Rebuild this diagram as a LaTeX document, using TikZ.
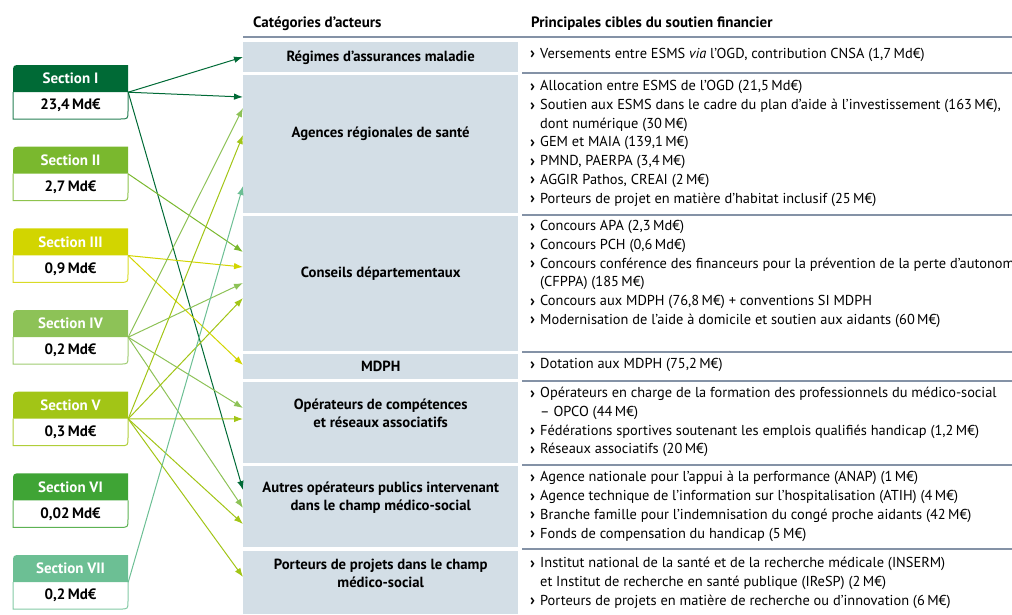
\documentclass[tikz,border=0pt]{standalone}
\usepackage{fontspec}
\setmainfont{PT Sans}
\usetikzlibrary{arrows.meta, positioning, calc}

\definecolor{sec1}{HTML}{006A36}
\definecolor{sec2}{HTML}{7AB82E}
\definecolor{sec3}{HTML}{D2D500}
\definecolor{sec4}{HTML}{8DC257}
\definecolor{sec5}{HTML}{A2C516}
\definecolor{sec6}{HTML}{3FA435}
\definecolor{sec7}{HTML}{6CBF94}
\definecolor{catfill}{HTML}{D3DEE6}
\definecolor{rulecol}{HTML}{8492A6}

\newcommand\bul{\strut\makebox[10pt][l]{\raisebox{-0.5pt}{\fontsize{16}{16}\selectfont\bfseries ›}}}
\newcommand\ind{\strut\hspace*{10pt}}

\begin{document}
\begin{tikzpicture}[
    x=1pt, y=-1pt,
    >={Latex[length=9pt, width=6.5pt]},
    sechead/.style={minimum width=115pt, minimum height=27pt, inner sep=0pt, text=white, font=\bfseries\fontsize{15}{18}\selectfont},
    secval/.style={minimum width=115pt, minimum height=27pt, inner sep=0pt, font=\bfseries\fontsize{15}{18}\selectfont},
    catbox/.style={fill=catfill, minimum width=275pt, inner sep=0pt, anchor=north west},
    catlabel/.style={align=center, inner sep=0pt, font=\bfseries\fontsize{14.7}{18}\selectfont},
    list/.style={anchor=north west, inner sep=0pt, align=left, font=\fontsize{14.4}{18.7}\selectfont},
    colhead/.style={anchor=west, inner sep=0pt, font=\bfseries\fontsize{15}{17}\selectfont},
    rowrule/.style={draw=rulecol, line width=1.2pt},
    flow/.style={->, line width=1pt}
]

    % === Frame ===
    \useasboundingbox (0,0) rectangle (1012,614);
    \clip (0,0) rectangle (1012,614);

    % === Column heads ===
    \node[colhead] (headCat) at (253,24) {Catégories d’acteurs};
    \node[colhead] (headTgt) at (531,24) {Principales cibles du soutien financier};
    \draw[rowrule] (243,37) -- (1012,37);
    \foreach \yy in {73,215,352,381,465,549}
        \draw[rowrule] (522,\yy) -- (1012,\yy);

    % === Categories of actors ===
    \node[catbox, minimum height=30pt]  (reg)    at (243,42)  {};
    \node[catbox, minimum height=138pt] (ars)    at (243,75)  {};
    \node[catbox, minimum height=135pt] (cd)     at (243,216) {};
    \node[catbox, minimum height=25pt]  (mdph)   at (243,354) {};
    \node[catbox, minimum height=81pt]  (oper)   at (243,382) {};
    \node[catbox, minimum height=81pt]  (autres) at (243,466) {};
    \node[catbox, minimum height=63pt]  (port)   at (243,551) {};

    \node[catlabel] (regT)    at ($(reg.center)+(0,1)$)      {Régimes d’assurances maladie};
    \node[catlabel] (arsT)    at ($(ars.center)+(0,-10)$)    {Agences régionales de santé};
    \node[catlabel] (cdT)     at ($(cd.center)+(0,-10)$)     {Conseils départementaux};
    \node[catlabel] (mdphT)   at (mdph.center)               {MDPH};
    \node[catlabel] (operT)   at ($(oper.center)+(0,-9.5)$)  {Opérateurs de compétences\\et réseaux associatifs};
    \node[catlabel] (autresT) at ($(autres.center)+(0,-9.5)$) {Autres opérateurs publics intervenant\\dans le champ médico-social};
    \node[catlabel] (portT)   at ($(port.center)+(0,-9.5)$)  {Porteurs de projets dans le champ\\médico-social};

    % === Targets of the support ===
    \node[list] (lReg) at (530,45) {\bul Versements entre ESMS \textit{via} l’OGD, contribution CNSA (1,7\,Md€)};
    \node[list] (lArs) at (530,77.6) {\bul Allocation entre ESMS de l’OGD (21,5\,Md€)\\
        \bul Soutien aux ESMS dans le cadre du plan d’aide à l’investissement (163\,M€),\\
        \ind dont numérique (30\,M€)\\
        \bul GEM et MAIA (139,1\,M€)\\
        \bul PMND, PAERPA (3,4\,M€)\\
        \bul AGGIR Pathos, CREAI (2\,M€)\\
        \bul Porteurs de projet en matière d’habitat inclusif (25\,M€)};
    \node[list] (lCd) at (530,217.6) {\bul Concours APA (2,3\,Md€)\\
        \bul Concours PCH (0,6\,Md€)\\
        \bul Concours conférence des financeurs pour la prévention de la perte d'autonomie\\
        \ind (CFPPA) (185\,M€)\\
        \bul Concours aux MDPH (76,8\,M€) + conventions SI MDPH\\
        \bul Modernisation de l'aide à domicile et soutien aux aidants (60\,M€)};
    \node[list] (lMdph) at (530,355.6) {\bul Dotation aux MDPH (75,2\,M€)};
    \node[list] (lOper) at (530,384.6) {\bul Opérateurs en charge de la formation des professionnels du médico-social\\
        \ind – OPCO (44\,M€)\\
        \bul Fédérations sportives soutenant les emplois qualifiés handicap (1,2\,M€)\\
        \bul Réseaux associatifs (20\,M€)};
    \node[list] (lAutres) at (530,468.6) {\bul Agence nationale pour l’appui à la performance (ANAP) (1\,M€)\\
        \bul Agence technique de l’information sur l’hospitalisation (ATIH) (4\,M€)\\
        \bul Branche famille pour l’indemnisation du congé proche aidants (42\,M€)\\
        \bul Fonds de compensation du handicap (5\,M€)};
    \node[list] (lPort) at (530,554.6) {\bul Institut national de la santé et de la recherche médicale (INSERM)\\
        \ind et Institut de recherche en santé publique (IReSP) (2\,M€)\\
        \bul Porteurs de projets en matière de recherche ou d’innovation (6\,M€)};

    % === Budget sections ===
    \foreach \i/\nm/\val in {1/I/{23,4}, 2/II/{2,7}, 3/III/{0,9}, 4/IV/{0,2}, 5/V/{0,3}, 6/VI/{0,02}, 7/VII/{0,2}}{
        \pgfmathsetmacro\top{65+81.67*(\i-1)}
        \fill[sec\i] (13,\top+27) -- (13,\top+8) .. controls (13,\top) .. (21,\top) -- (128,\top) -- (128,\top+27) -- cycle;
        \draw[sec\i!85, line width=1pt] (13,\top+27) -- (13,\top+54) -- (120,\top+54) .. controls (128,\top+54) .. (128,\top+46) -- (128,\top+27);
        \node[sechead] (s\i) at (70.5,\top+13.5) {Section \nm};
        \node[secval]  (v\i) at (70.5,\top+40.5) {\val\,Md€};
    }

    % === Flows from sections to actors ===
    \foreach \s/\t/\yy in {1/reg/57, 1/ars/97, 1/autres/490, 2/cd/252, 3/cd/267, 3/mdph/365,
        4/ars/108, 4/cd/283, 4/oper/408, 4/autres/508,
        5/ars/135, 5/cd/298, 5/oper/419, 5/autres/524, 5/port/577, 7/ars/186}
        \draw[flow, sec\s] (s\s.south east) -- (\t.west |- 0,\yy);

\end{tikzpicture}
\end{document}
